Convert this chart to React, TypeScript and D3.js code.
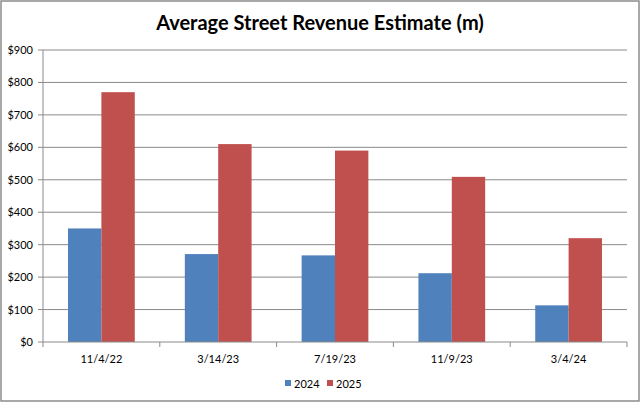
import React from "react";
import * as d3 from "d3";

const categories = ["11/4/22", "3/14/23", "7/19/23", "11/9/23", "3/4/24"];
const seriesNames = ["2024", "2025"];
const values2024 = [350, 271, 267, 212, 113];
const values2025 = [770, 610, 590, 509, 320];
const yTicks = [0, 100, 200, 300, 400, 500, 600, 700, 800, 900];
const colors = ["#4F81BD", "#C0504D"];

const W = 640, H = 402;
const left = 43, right = 627, top = 50, bottom = 342;
const font = "Lato, 'Open Sans', sans-serif";

export default function App() {
  const x = d3.scaleBand<string>().domain(categories).range([left, right]).paddingInner(0).paddingOuter(0);
  const y = d3.scaleLinear().domain([0, 900]).range([bottom, top]);
  const bw = x.bandwidth();
  const sub = d3.scaleBand<string>().domain(seriesNames).range([bw * 0.75 / 3.5, bw - bw * 0.75 / 3.5]).padding(0);
  const data = [values2024, values2025];
  return (
    <svg width={W} height={H} style={{ position: "absolute", left: 0, top: 0, background: "#fff" }} fontFamily={font}>
      <rect x={1} y={1} width={W - 2} height={H - 2} fill="#fff" stroke="#8c8c8c" strokeWidth={1.5} />
      <text x={W / 2} y={30} textAnchor="middle" fontSize={20} fontWeight="bold" fill="#000">
        Average Street Revenue Estimate (m)
      </text>
      {yTicks.map((t) => (
        <g key={t}>
          {t > 0 && <line x1={left} x2={right} y1={y(t)} y2={y(t)} stroke="#8a8a8a" strokeWidth={1} />}
          <line x1={left - 5} x2={left} y1={y(t)} y2={y(t)} stroke="#8a8a8a" />
          <text x={33} y={y(t) + 4} textAnchor="end" fontSize={11} fill="#000">
            {d3.format("$,")(t)}
          </text>
        </g>
      ))}
      {data.map((vals, si) =>
        vals.map((v, i) => (
          <rect
            key={`${si}-${i}`}
            x={(x(categories[i]) as number) + (sub(seriesNames[si]) as number)}
            y={y(v)}
            width={sub.bandwidth()}
            height={y(0) - y(v)}
            fill={colors[si]}
          />
        ))
      )}
      <line x1={left} x2={left} y1={top} y2={bottom} stroke="#8a8a8a" />
      <line x1={left} x2={right} y1={bottom} y2={bottom} stroke="#8a8a8a" />
      {[...categories.map((c) => x(c) as number), right].map((px, i) => (
        <line key={i} x1={px} x2={px} y1={bottom} y2={bottom + 5} stroke="#8a8a8a" />
      ))}
      {categories.map((c) => (
        <text key={c} x={(x(c) as number) + bw / 2} y={363} textAnchor="middle" fontSize={11} fill="#000">
          {c}
        </text>
      ))}
      <g>
        {seriesNames.map((s, i) => (
          <g key={s} transform={`translate(${285 + i * 42},${380})`}>
            <rect x={0} y={0} width={6} height={6} fill={colors[i]} />
            <text x={9} y={7.5} fontSize={11} fill="#000">{s}</text>
          </g>
        ))}
      </g>
    </svg>
  );
}
